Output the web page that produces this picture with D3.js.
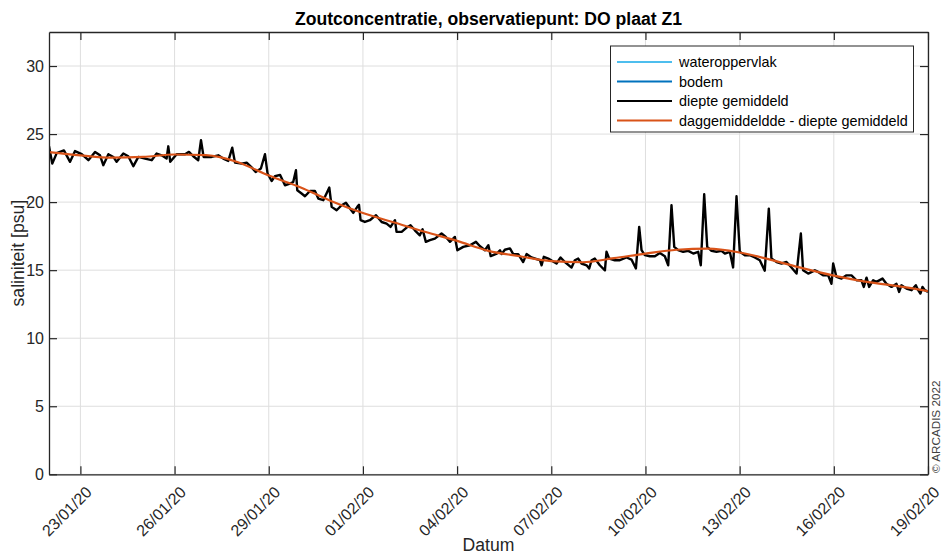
<!DOCTYPE html>
<html><head><meta charset="utf-8">
<script src="https://cdn.jsdelivr.net/npm/d3@7"></script>
<style>
body{margin:0;background:#fff}
svg text{font-family:"Liberation Sans",Arial,Helvetica,sans-serif}
</style>
</head><body><svg id="c" width="942" height="556"></svg>
<script>
const chartTitle = "Zoutconcentratie, observatiepunt: DO plaat Z1";
const yLabel = "saliniteit [psu]";
const xLabel = "Datum";
const copyright = "© ARCADIS 2022";
const seriesNames = ["wateroppervlak", "bodem", "diepte gemiddeld", "daggemiddeldde - diepte gemiddeld"];
const seriesColors = ["#4DBEEE", "#0072BD", "#000000", "#D95319"];
const startDate = new Date(2020, 0, 22);
const endDate = new Date(2020, 1, 19);
const xTickDates = [[2020,0,23],[2020,0,26],[2020,0,29],[2020,1,1],[2020,1,4],[2020,1,7],[2020,1,10],[2020,1,13],[2020,1,16],[2020,1,19]];
const yTicks = [0, 5, 10, 15, 20, 25, 30];
const yMax = 32.5;

// depth-averaged salinity: hours since 22/01/20 00:00 and psu
const depthHours = [
0,2.5,5.9,11.4,16.1,19.9,25.0,30.1,35.2,39.0,41.5,45.4,49.2,51.7,56.8,60.6,64.5,68.3,73.4,78.5,82.3,86.1,89.9,91.2,92.7,97.6,104,107,110.3,114.1,116.2,118.2,124.3,129.4,133.2,137.1,140.1,142.2,147.3,151.1,154.9,158,162,165.1,167.1,170.2,
172.7,176.7,180.4,184.2,186.7,188.8,189.8,193.1,195.7,199.5,203.3,205.9,209.7,212.7,214.3,216.1,219.9,223.7,227.0,230.1,232.6,235.7,237.0,238.2,241.5,245.3,250.0,254.3,258.1,261.1,264.5,265.7,269.6,273.4,276.4,279.7,283.5,285.6,288.1,291.2,295.0,300.1,303.4,306.5,310.3,312.2,316.7,321.8,326.4,329.5,333.3,335.9,337.7,342.3,344.8,
346.0,348.5,352.4,354.9,358.7,362.5,365.1,368.9,375.3,376.6,378.3,381.7,388.0,391.1,394.4,399.5,402.0,404.6,407.1,411.0,413.0,414.8,417.3,421.1,425.0,426.2,428.3,432.6,436.4,441.5,445.3,448.7,451.2,453.0,455.5,459.4,463.2,467.0,470.8,473.4,475.9,478.0,481.0,484.8,488.7,492.5,496.3,498.3,500.9,503.2,506.5,510.3,
514.1,516.7,520.5,523.0,525.6,528.1,532.0,535.8,539.6,543.4,547.2,550.3,552.3,556.2,560.0,563.8,567.6,571.5,574.8,576.5,580.4,585.5,588.0,591.8,595.7,598.2,599.5,602.0,605.9,609.7,613.5,617.3,621.1,622.9,625.0,627.0,630.1,632.6,637.2,640.2,644.1,647.9,649.9,651.7,655.5,659.4,662.7,664.5,666.2,667.8,669.6,672
];
const depthValues = [
24.1,22.83,23.6,23.8,22.96,23.75,23.52,23.08,23.69,23.44,22.71,23.52,23.32,22.96,23.57,23.37,22.64,23.32,23.2,23.08,23.57,23.44,23.2,24.1,22.96,23.52,23.52,23.69,23.37,23.08,24.55,23.32,23.32,23.44,23.2,23.03,24.0,22.9,22.83,22.9,22.55,22.22,22.47,23.52,22.1,21.55,
21.9,22.0,21.24,21.36,21.48,22.34,20.87,20.63,20.43,20.82,20.82,20.26,20.14,20.75,21.07,19.65,19.4,19.77,19.95,19.53,19.21,19.65,19.8,18.67,18.54,18.67,19.04,18.54,18.42,18.18,18.67,17.81,17.81,18.13,18.3,17.93,17.56,18.0,17.08,17.2,17.32,17.69,17.44,17.08,17.44,16.46,16.71,16.83,17.08,16.76,16.46,16.83,16.03,16.22,16.46,
16.18,16.5,16.6,16.18,16.18,15.6,16.18,15.93,15.73,15.36,15.98,15.85,15.49,15.93,15.6,15.19,15.73,15.85,15.49,15.36,15.12,15.73,15.85,15.36,14.99,16.35,15.85,15.73,15.73,15.93,15.78,15.12,18.18,16.47,16.1,16.02,16.02,16.26,16.02,15.36,19.77,16.71,16.47,16.35,16.42,16.22,16.35,15.36,20.58,16.71,16.42,16.35,
16.42,16.22,16.35,15.2,20.43,16.35,16.1,16.1,15.93,15.73,14.96,19.52,15.85,15.6,15.49,15.6,15.19,14.75,17.69,14.99,14.75,14.99,14.87,14.62,14.62,14.0,15.49,14.5,14.38,14.62,14.62,14.26,14.26,13.77,14.45,13.77,14.26,14.14,14.38,14.0,13.77,14.0,13.4,13.89,13.65,13.53,13.89,13.53,13.28,13.77,13.53,13.4
];
// daily mean of depth-averaged salinity, days since 22/01/20
const dailyDays = [0,1,2,3,4,5,6,7,8,9,10,11,12,13,14,15,16,17,18,19,20,21,22,23,24,25,26,27,28];
const dailyValues = [23.68,23.44,23.27,23.32,23.5,23.45,22.95,21.95,21.1,20.07,19.2,18.5,17.8,17.15,16.42,16.02,15.66,15.58,15.88,16.22,16.5,16.58,16.3,15.76,15.15,14.6,14.16,13.84,13.46];

const M = {l:49, r:928, t:32, b:474.3};
const axisCol = "#262626";
const svg = d3.select("#c");
const x = d3.scaleTime().domain([startDate, endDate]).range([M.l, M.r]);
const y = d3.scaleLinear().domain([0, yMax]).range([M.b, M.t]);
const hourToDate = h => new Date(startDate.getTime() + h * 3600e3);
const xTicks = xTickDates.map(a => new Date(a[0], a[1], a[2]));
const fmt = d3.timeFormat("%d/%m/%y");

svg.append("rect").attr("x",0).attr("y",0).attr("width",942).attr("height",556).attr("fill","#fff");
svg.append("rect").attr("x",M.l).attr("y",M.t).attr("width",M.r-M.l).attr("height",M.b-M.t).attr("fill","#fff");

// grid
const grid = svg.append("g").attr("stroke","#dedede").attr("stroke-width",1);
grid.selectAll(".gx").data(xTicks).join("line")
  .attr("x1",d=>x(d)).attr("x2",d=>x(d)).attr("y1",M.t).attr("y2",M.b);
grid.selectAll(".gy").data(yTicks).join("line")
  .attr("x1",M.l).attr("x2",M.r).attr("y1",d=>y(d)).attr("y2",d=>y(d));

// clip
svg.append("clipPath").attr("id","pc").append("rect")
  .attr("x",M.l).attr("y",M.t).attr("width",M.r-M.l).attr("height",M.b-M.t);

const depthData = depthHours.map((h,i)=>({t:hourToDate(h), v:depthValues[i]}));
const dailyData = dailyDays.map((d,i)=>({t:hourToDate(d*24), v:dailyValues[i]}));

const lineGen = d3.line().x(d=>x(d.t)).y(d=>y(d.v));
const plot = svg.append("g").attr("clip-path","url(#pc)");
plot.append("path").datum(depthData).attr("d",lineGen)
  .attr("fill","none").attr("stroke",seriesColors[2]).attr("stroke-width",2.4).attr("stroke-linejoin","round");
plot.append("path").datum(dailyData).attr("d",lineGen.curve(d3.curveMonotoneX))
  .attr("fill","none").attr("stroke",seriesColors[3]).attr("stroke-width",2.2);

// axes
function styleAxis(g){
  g.select(".domain").attr("stroke",axisCol).attr("stroke-width",1.3);
  g.selectAll(".tick line").attr("stroke",axisCol).attr("stroke-width",1.2);
  g.selectAll("text").attr("fill",axisCol).attr("font-size",16).attr("font-family",null);
}
const gB = svg.append("g").attr("transform",`translate(0,${M.b})`)
  .call(d3.axisBottom(x).tickValues(xTicks).tickFormat(fmt).tickSizeInner(-8).tickSizeOuter(0));
styleAxis(gB);
gB.selectAll(".tick text").attr("x",0).attr("y",0).attr("dy","0.35em")
  .attr("text-anchor","end").attr("transform","translate(8,15) rotate(-45)");
const gT = svg.append("g").attr("transform",`translate(0,${M.t})`)
  .call(d3.axisTop(x).tickValues(xTicks).tickFormat("").tickSizeInner(-8).tickSizeOuter(0));
styleAxis(gT);
const gL = svg.append("g").attr("transform",`translate(${M.l},0)`)
  .call(d3.axisLeft(y).tickValues(yTicks).tickFormat(d3.format("d")).tickSizeInner(-8).tickSizeOuter(0).tickPadding(5));
styleAxis(gL);
gL.selectAll(".tick text").attr("x",-5);
const gR = svg.append("g").attr("transform",`translate(${M.r},0)`)
  .call(d3.axisRight(y).tickValues(yTicks).tickFormat("").tickSizeInner(-8).tickSizeOuter(0));
styleAxis(gR);

// titles
svg.append("text").attr("x",(M.l+M.r)/2).attr("y",24.5).attr("text-anchor","middle")
  .attr("font-size",17.6).attr("font-weight","bold").attr("fill","#000").text(chartTitle);
svg.append("text").attr("x",(M.l+M.r)/2).attr("y",551).attr("text-anchor","middle")
  .attr("font-size",17.6).attr("fill",axisCol).text(xLabel);
svg.append("text").attr("transform",`translate(24,${(M.t+M.b)/2}) rotate(-90)`).attr("text-anchor","middle")
  .attr("font-size",17.6).attr("fill",axisCol).text(yLabel);
svg.append("text").attr("transform","translate(940,473) rotate(-90)").attr("text-anchor","start")
  .attr("font-size",11.7).attr("fill","#404040").text(copyright);

// legend
const lg = svg.append("g");
lg.append("rect").attr("x",610.5).attr("y",46).attr("width",303).attr("height",86)
  .attr("fill","#fff").attr("stroke",axisCol).attr("stroke-width",1);
const rowY = [62, 81.5, 101, 120.5];
seriesNames.forEach((n,i)=>{
  lg.append("line").attr("x1",617).attr("x2",672).attr("y1",rowY[i]).attr("y2",rowY[i])
    .attr("stroke",seriesColors[i]).attr("stroke-width",2.2);
  lg.append("text").attr("x",679).attr("y",rowY[i]).attr("dy","0.35em")
    .attr("font-size",14.4).attr("fill","#000").text(n);
});
</script></body></html>
